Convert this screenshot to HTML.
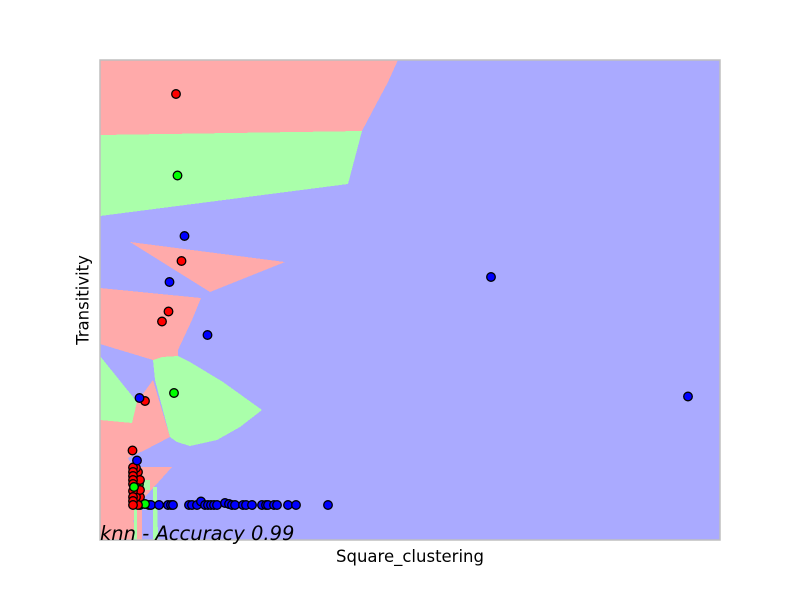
<!DOCTYPE html>
<html>
<head>
<meta charset="utf-8">
<style>
html,body{margin:0;padding:0;background:#fff;width:800px;height:600px;overflow:hidden}
svg{display:block}
text{font-family:"DejaVu Sans","Liberation Sans",sans-serif;fill:#000}
</style>
</head>
<body>
<svg id="chart" width="800" height="600" viewBox="0 0 800 600">
  <rect x="0" y="0" width="800" height="600" fill="#fff"/>
  <rect x="100" y="60" width="620" height="480" fill="#AAAAFF"/>
  <g id="regions"></g>
  <g id="points"></g>
  <rect x="100" y="60" width="620" height="480" fill="none" stroke="#bfbfbf" stroke-width="1.5"/>
  <text x="100" y="540" font-size="19.5" font-style="italic">knn - Accuracy 0.99</text>
  <text x="410" y="562" font-size="16.5" text-anchor="middle">Square_clustering</text>
  <text x="0" y="0" font-size="16.5" text-anchor="middle" transform="translate(88.5,300) rotate(-90)">Transitivity</text>
</svg>
<script>
const xDomain = [0, 6.2];
const yDomain = [0, 4.8];
const regionClasses = ['red','green','red','red','green','green','red','red','red','green','green','green'];
const regionShapes = [
  [[0,4.8],[2.98,4.8],[2.88,4.58],[2.72,4.28],[2.62,4.09],[0,4.05]],
  [[0,4.05],[2.62,4.09],[2.48,3.56],[0,3.24]],
  [[0.30,2.98],[1.85,2.78],[1.10,2.48]],
  [[0,2.52],[1.01,2.42],[0.92,2.2],[0.78,1.9],[0.78,1.84],[0.53,1.8],[0,1.96]],
  [[0.53,1.8],[0.62,1.83],[0.78,1.84],[0.90,1.78],[1.23,1.58],[1.62,1.30],[1.40,1.13],[1.17,1.00],[0.90,0.94],[0.77,0.98],[0.70,1.03],[0.55,1.6]],
  [[0,1.84],[0.37,1.38],[0.32,1.17],[0,1.20]],
  [[0,1.20],[0.32,1.17],[0.37,1.38],[0.53,1.6],[0.70,1.03],[0.45,0.9],[0.28,0.82],[0.33,0.73],[0.34,0],[0,0]],
  [[0.33,0.73],[0.72,0.73],[0.45,0.43],[0.38,0.2],[0.33,0.2]],
  [[0.37,0.3],[0.42,0.3],[0.42,0],[0.37,0]],
  [[0.34,0.5],[0.37,0.5],[0.37,0],[0.34,0]],
  [[0.53,0.53],[0.57,0.53],[0.58,0],[0.53,0]],
  [[0.4,0.6],[0.5,0.6],[0.5,0.5],[0.42,0.5]]
];
const pointClasses = ['blue','red','blue','blue','blue','blue','blue','blue','blue','blue','blue','blue','blue','blue','blue','blue','blue','blue','blue','blue','blue','blue','blue','blue','blue','blue','blue','blue','blue','blue','blue','green','green','green','red','red','red','red','red','red','red','red','red','red','red','red','red','green','red','red','red','blue','red','blue','blue','red','blue','red','red','red','green'];
const pointX = [0.40,0.49,0.51,0.59,0.68,0.71,0.73,0.89,0.92,0.97,1.01,1.05,1.08,1.11,1.14,1.17,1.25,1.29,1.32,1.35,1.43,1.46,1.52,1.62,1.66,1.68,1.74,1.77,1.88,1.96,2.28,0.37,0.39,0.45,0.40,0.38,0.36,0.38,0.40,0.36,0.40,0.33,0.33,0.33,0.33,0.33,0.33,0.34,0.33,0.33,0.33,0.37,0.325,0.845,0.695,0.76,1.075,0.815,0.685,0.62,0.74];
const pointY = [0.35,0.35,0.35,0.35,0.35,0.35,0.35,0.35,0.35,0.35,0.385,0.35,0.35,0.35,0.35,0.35,0.37,0.36,0.35,0.35,0.35,0.35,0.35,0.35,0.35,0.35,0.35,0.35,0.35,0.35,0.35,0.38,0.56,0.36,0.43,0.35,0.43,0.68,0.50,0.72,0.60,0.725,0.68,0.64,0.60,0.56,0.49,0.53,0.43,0.39,0.35,0.795,0.895,3.04,2.58,4.46,2.05,2.79,2.285,2.185,1.47];
const extraX = [3.91,5.88,0.775,0.45,0.395];
const extraY = [2.63,1.435,3.645,1.39,1.42];
const extraClasses = ['blue','blue','green','red','blue'];

const regionFill = {red:'#FFAAAA', green:'#AAFFAA'};
const pointFill = {red:'#FF0000', green:'#00FF00', blue:'#0000FF'};
const NS = 'http://www.w3.org/2000/svg';

function xScale(v){ return 100 + (v - xDomain[0]) / (xDomain[1] - xDomain[0]) * 620; }
function yScale(v){ return 540 - (v - yDomain[0]) / (yDomain[1] - yDomain[0]) * 480; }

const regionLayer = document.getElementById('regions');
regionShapes.forEach(function(shape, i){
  const poly = document.createElementNS(NS, 'polygon');
  poly.setAttribute('points', shape.map(function(p){ return xScale(p[0]) + ',' + yScale(p[1]); }).join(' '));
  poly.setAttribute('fill', regionFill[regionClasses[i]]);
  poly.setAttribute('shape-rendering', 'crispEdges');
  
  
  regionLayer.appendChild(poly);
});

const pointLayer = document.getElementById('points');
function drawPoint(x, y, cls){
  const c = document.createElementNS(NS, 'circle');
  c.setAttribute('cx', xScale(x));
  c.setAttribute('cy', yScale(y));
  c.setAttribute('r', 4.3);
  c.setAttribute('fill', pointFill[cls]);
  c.setAttribute('stroke', '#000');
  c.setAttribute('stroke-width', 1.3);
  
  
  pointLayer.appendChild(c);
}
pointX.forEach(function(x, i){ drawPoint(x, pointY[i], pointClasses[i]); });
extraX.forEach(function(x, i){ drawPoint(x, extraY[i], extraClasses[i]); });
</script>
</body>
</html>
